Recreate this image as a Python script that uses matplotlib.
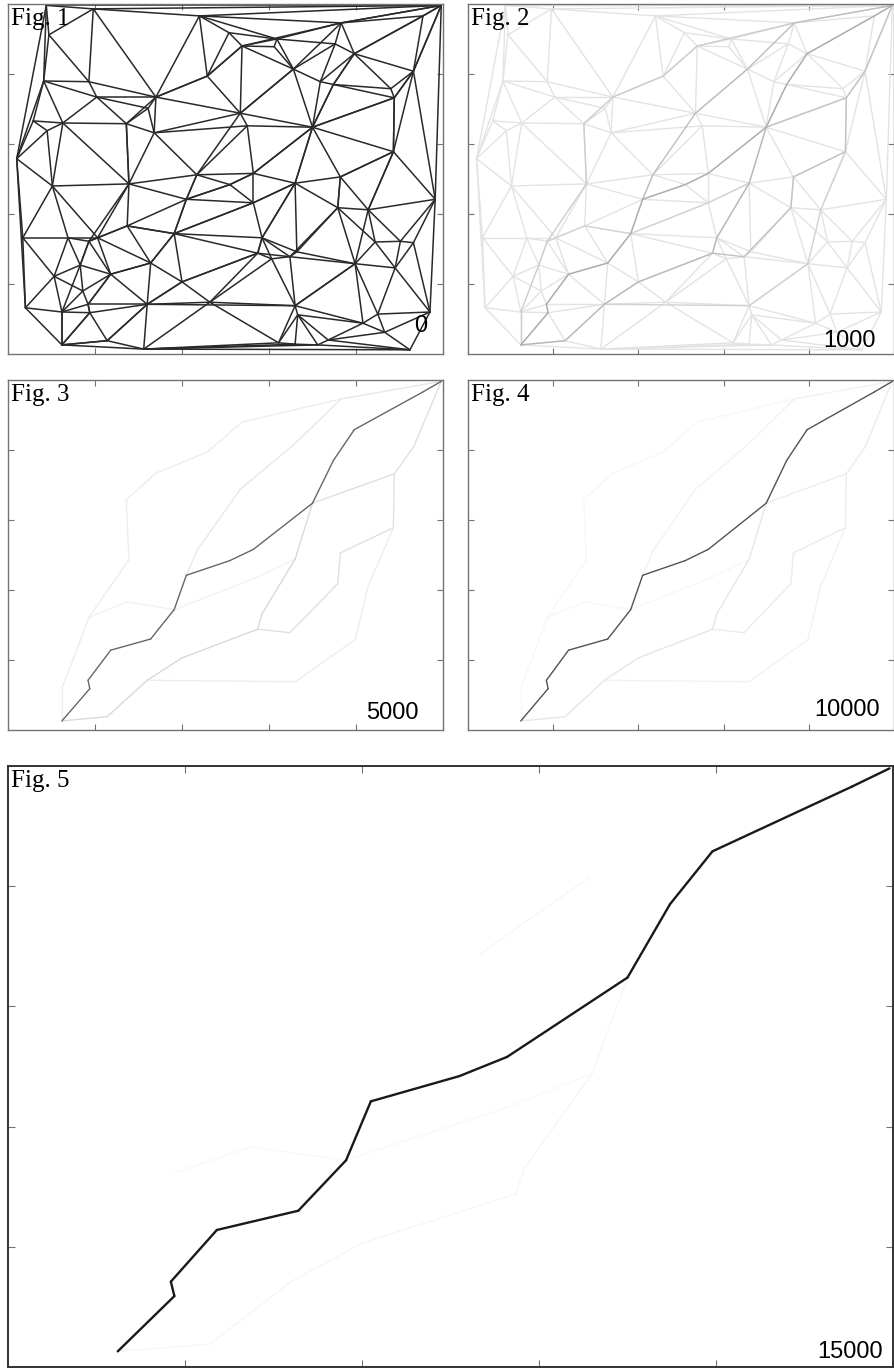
import numpy as np
import matplotlib
matplotlib.use("Agg")
import matplotlib.pyplot as plt
import matplotlib.tri as mtri
from matplotlib.collections import LineCollection

# ---------------- data ----------------
node_names = ["A1", "A2", "A3", "A4", "A5", "A6", "A7", "A8", "A9", "A10",
              "A12", "A13", "A14", "A15", "A16", "A17", "A18",
              "B1", "B2", "B3", "B4", "B5", "B6", "B7", "B8", "B9", "B10",
              "B11", "B12", "B13", "B14", "B15", "B16", "B17", "B18", "B19",
              "B20", "B21",
              "C1", "C2", "C3", "C4", "C5", "C6", "C7", "C8", "C9", "C10",
              "C11", "C12", "C13", "C14", "C15", "C16", "C17", "C18", "C19",
              "C20", "C21", "C22", "C23", "C24",
              "D1", "D2", "D3", "D4", "D5", "D6", "D7", "D8", "D9", "D10",
              "D11", "D12", "D13", "D14", "D15", "D16", "D17", "D18", "D19",
              "D20", "D21", "D22", "D23", "D24", "D25", "D26", "E1"]
node_x = [0.44, 0.98, 0.47, 0.41, 0.93, 1.02, 1.70, 1.61, 2.20, 2.29,
          0.29, 0.63, 0.45, 1.36, 1.68, 0.10, 2.17,
          4.98, 3.83, 4.77, 2.54, 2.69, 3.09, 3.06, 3.76, 3.98, 3.28,
          4.66, 3.59, 3.74, 4.40, 4.44, 2.67, 2.75, 3.50, 4.43,
          2.82, 3.82,
          0.51, 1.39, 2.05, 1.37, 1.91, 0.17, 0.69, 0.93, 1.03, 0.83,
          1.64, 0.53, 1.18, 2.00, 0.86, 0.20, 0.62, 0.92, 0.94,
          1.60, 2.32, 0.62, 1.14, 1.56,
          3.30, 2.82, 3.79, 4.14, 4.91, 2.92, 2.87, 3.03, 3.24, 3.32,
          4.22, 4.51, 4.66, 3.99, 4.45, 3.30, 3.33, 4.25, 4.08,
          4.85, 4.33, 3.11, 3.30, 3.56, 3.68, 4.62, 2.55]
node_y = [4.98, 4.93, 4.56, 3.90, 3.89, 3.67, 3.67, 3.51, 4.83, 3.97,
          3.33, 3.30, 3.19, 3.29, 3.16, 2.79, 2.56,
          4.98, 4.73, 4.83, 4.59, 4.40, 4.50, 4.39, 4.43, 4.29, 4.07,
          4.04, 3.89, 3.85, 3.79, 3.66, 3.44, 3.26, 3.24, 2.89,
          2.58, 2.53,
          2.40, 2.43, 2.21, 1.83, 1.72, 1.66, 1.66, 1.61, 1.66, 1.27,
          1.30, 1.11, 1.14, 1.03, 0.90, 0.66, 0.60, 0.71, 0.59,
          0.71, 0.74, 0.13, 0.19, 0.07,
          2.44, 2.16, 2.09, 2.06, 2.21, 1.66, 1.44, 1.36, 1.39, 1.46,
          1.60, 1.61, 1.59, 1.29, 1.23, 0.69, 0.56, 0.57, 0.44,
          0.60, 0.31, 0.16, 0.14, 0.13, 0.20, 0.06, 2.42]

# ant routes (node sequences)
route_best = ["C22", "C19", "C18", "C13", "C11", "C5", "C3", "E1", "B20",
              "B18", "B13", "B9", "B3", "B1"]
route_r1 = ["C22", "C23", "C20", "C14", "D7", "D6", "D1", "B18"]
route_r2a = ["C3", "A18", "B16"]
route_r2b = ["B16", "B10"]
route_r2c = ["B10", "B2", "B1"]
route_r3 = ["D7", "D9", "D3", "B21", "B19", "B15", "B11", "B1"]
route_r3b = ["B18", "B15"]
route_r4 = ["C22", "C17", "C10", "C8", "C2", "A15", "A7", "A10", "B5", "B2"]
route_r5 = ["C8", "C4", "C5", "D2", "D1"]
route_r6 = ["C20", "D16", "D14", "D4", "B19"]

# panel titles and iteration labels
panel_labels = ["Fig. 1", "Fig. 2", "Fig. 3", "Fig. 4", "Fig. 5"]
iter_labels = ["0", "1000", "5000", "10000", "15000"]

# pheromone level (0..1) per panel
level_base = [0.84, 0.11, 0.0, 0.0, 0.0]
level_best = [0.84, 0.33, 0.60, 0.68, 0.90]
level_r1 = [0.84, 0.28, 0.15, 0.10, 0.035]
level_r2a = [0.84, 0.26, 0.09, 0.05, 0.0]
level_r2b = [0.84, 0.26, 0.09, 0.05, 0.03]
level_r2c = [0.84, 0.26, 0.09, 0.05, 0.0]
level_r3 = [0.84, 0.24, 0.12, 0.08, 0.0]
level_r3b = [0.84, 0.24, 0.12, 0.07, 0.0]
level_r4 = [0.84, 0.20, 0.07, 0.03, 0.0]
level_r5 = [0.84, 0.17, 0.05, 0.03, 0.025]
level_r6 = [0.84, 0.18, 0.07, 0.05, 0.0]

routes = [(route_best, level_best), (route_r1, level_r1),
          (route_r2a, level_r2a), (route_r2b, level_r2b), (route_r2c, level_r2c),
          (route_r3, level_r3), (route_r3b, level_r3b), (route_r4, level_r4),
          (route_r5, level_r5), (route_r6, level_r6)]

# ---------------- drawing ----------------
W, H = 895, 1369
fig = plt.figure(figsize=(W / 100, H / 100), dpi=100)

xs = np.array(node_x)
ys = np.array(node_y)
idx = {n: i for i, n in enumerate(node_names)}
tri = mtri.Triangulation(xs, ys)


def px_axes(x0, y0, x1, y1):
    return fig.add_axes([x0 / W, 1 - y1 / H, (x1 - x0) / W, (y1 - y0) / H])


axes = [px_axes(8, 4, 443, 354), px_axes(468, 4, 894, 354),
        px_axes(8, 380, 443, 730), px_axes(468, 380, 894, 730),
        px_axes(8, 766, 893, 1367)]

label_offsets = [(-16, 22), (-18, 7), (-24, 11), (-14, 14), (-10, 9)]

for k, ax in enumerate(axes):
    segs, vals, lws = [], [], []
    if level_base[k] > 0:
        for a, b in tri.edges:
            segs.append([(xs[a], ys[a]), (xs[b], ys[b])])
            vals.append(level_base[k])
            lws.append(1.1 if k == 0 else 1.0)
    for r, lev in routes:
        v = lev[k]
        if v <= 0:
            continue
        for a, b in zip(r[:-1], r[1:]):
            ia, ib = idx[a], idx[b]
            segs.append([(xs[ia], ys[ia]), (xs[ib], ys[ib])])
            vals.append(v)
            if k == 4 and r is route_best:
                lws.append(1.7)
            elif k == 0:
                lws.append(1.1)
            else:
                lws.append(1.0)
    order = np.argsort(vals, kind="stable")
    segs = [segs[i] for i in order]
    cols = [(1 - vals[i],) * 3 for i in order]
    lws = [lws[i] for i in order]
    ax.add_collection(LineCollection(segs, colors=cols, linewidths=lws,
                                     capstyle="round", joinstyle="round"))
    ax.set_xlim(0, 5)
    ax.set_ylim(0, 5)
    ax.set_xticks([1, 2, 3, 4])
    ax.set_yticks([1, 2, 3, 4])
    ax.tick_params(direction="in", top=True, right=True, length=4 if k < 4 else 5,
                   width=0.8, color="0.45", labelbottom=False, labelleft=False)
    for sp in ax.spines.values():
        sp.set_color("0.45" if k < 4 else "0.2")
        sp.set_linewidth(1.0 if k < 4 else 1.4)
    ax.annotate(panel_labels[k], xy=(0, 1), xycoords="axes fraction",
                xytext=(3, -4), textcoords="offset pixels", ha="left", va="top",
                fontsize=18, family="Liberation Serif", color="black")
    ax.annotate(iter_labels[k], xy=(1, 0), xycoords="axes fraction",
                xytext=label_offsets[k], textcoords="offset pixels",
                ha="right", va="baseline", fontsize=17,
                family="Liberation Sans", color="black")

fig.savefig("out.png", dpi=100)
